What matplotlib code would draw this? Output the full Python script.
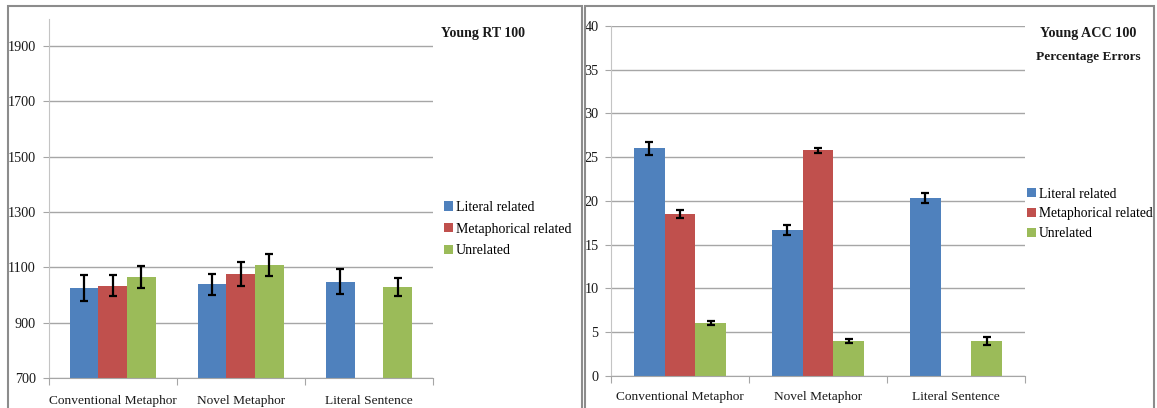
import numpy as np
import matplotlib
matplotlib.use('Agg')
import matplotlib.pyplot as plt
from matplotlib.patches import Rectangle

plt.rcParams['font.family'] = ['Liberation Serif', 'DejaVu Serif']

# 条件と系列
categories = ['Conventional Metaphor', 'Novel Metaphor', 'Literal Sentence']
series = ['Literal related', 'Metaphorical related', 'Unrelated']
colors = ['#4F81BD', '#C0504D', '#9BBB59']

# 反応時間 (ms) と誤差
rt_literal = [1025, 1039, 1047]
rt_metaphor = [1034, 1076, np.nan]
rt_unrelated = [1066, 1108, 1029]
rt_err_literal = [47, 38, 45]
rt_err_metaphor = [38, 42, np.nan]
rt_err_unrelated = [40, 40, 31]

# 誤答率 (%) と誤差
acc_literal = [26.0, 16.7, 20.3]
acc_metaphor = [18.5, 25.8, np.nan]
acc_unrelated = [6.0, 4.0, 4.0]
acc_err_literal = [0.7, 0.55, 0.6]
acc_err_metaphor = [0.45, 0.3, np.nan]
acc_err_unrelated = [0.25, 0.25, 0.45]

rt_ticks = [700, 900, 1100, 1300, 1500, 1700, 1900]
acc_ticks = [0, 5, 10, 15, 20, 25, 30, 35, 40]

W, H = 1157, 408
fig = plt.figure(figsize=(W / 100, H / 100), dpi=100)

def fx(px):
    return px / W

def fy(py):
    return (H - py) / H

# パネルの枠
for x0, x1 in [(8, 582), (585, 1154)]:
    fig.patches.append(Rectangle((fx(x0), fy(420)), fx(x1 - x0), (420 - 6) / H,
                                 transform=fig.transFigure, fill=False,
                                 edgecolor='#8C8C8C', linewidth=1.5))

def draw_panel(ax, values, errors, ylim, ticks, xpad):
    width = 0.2233
    x = np.arange(len(categories)) + 0.5
    for i, (vals, errs) in enumerate(zip(values, errors)):
        ax.bar(x + (i - 1) * width, vals, width, color=colors[i], label=series[i],
               zorder=2)
        ax.errorbar(x + (i - 1) * width, vals, yerr=errs, fmt='none', ecolor='black',
                    elinewidth=1.6, capsize=2.6, capthick=1.6, zorder=3)
    ax.set_xlim(0, 3)
    ax.set_ylim(*ylim)
    ax.set_yticks(ticks)
    ax.set_yticklabels([str(t) for t in ticks], fontsize=10.2, color='#1a1a1a')
    ax.yaxis.grid(True, color='#A6A6A6', linewidth=1.0, zorder=0)
    ax.set_axisbelow(True)
    ax.set_xticks([0, 1, 2, 3])
    ax.set_xticklabels([])
    ax.set_xticks(x, minor=True)
    ax.set_xticklabels(categories, minor=True, fontsize=9.6, color='#1a1a1a')
    ax.tick_params(axis='x', which='major', length=5, color='#A6A6A6', direction='out')
    ax.tick_params(axis='x', which='minor', length=0, pad=xpad)
    ax.tick_params(axis='y', length=4, color='#A6A6A6', pad=5)
    for s in ['top', 'right']:
        ax.spines[s].set_visible(False)
    ax.spines['left'].set_color('#C4C4C4')
    ax.spines['bottom'].set_color('#A6A6A6')

# 反応時間
ax1 = fig.add_axes([fx(48.5), fy(378), fx(433 - 48.5), (378 - 19) / H])
draw_panel(ax1,
           [rt_literal, rt_metaphor, rt_unrelated],
           [rt_err_literal, rt_err_metaphor, rt_err_unrelated],
           (700, 1997), rt_ticks, 12)
fig.text(fx(441), fy(34), 'Young RT 100', fontsize=10, fontweight='bold',
         ha='left', va='center', color='#1a1a1a')
fig.legend(*ax1.get_legend_handles_labels(), loc='center left',
           bbox_to_anchor=(fx(444), fy(229)), frameon=False, fontsize=10,
           handlelength=0.65, handleheight=0.65, handletextpad=0.2,
           labelspacing=0.62, borderpad=0, borderaxespad=0)

# 誤答率
ax2 = fig.add_axes([fx(611), fy(375.7), fx(1025 - 611), (375.7 - 26) / H])
draw_panel(ax2,
           [acc_literal, acc_metaphor, acc_unrelated],
           [acc_err_literal, acc_err_metaphor, acc_err_unrelated],
           (0, 40), acc_ticks, 11)
fig.text(fx(1088), fy(34), 'Young ACC 100', fontsize=10.2, fontweight='bold',
         ha='center', va='center', color='#1a1a1a')
fig.text(fx(1088), fy(57), 'Percentage Errors', fontsize=9.6, fontweight='bold',
         ha='center', va='center', color='#1a1a1a')
fig.legend(*ax2.get_legend_handles_labels(), loc='center left',
           bbox_to_anchor=(fx(1027), fy(214)), frameon=False, fontsize=9.8,
           handlelength=0.65, handleheight=0.65, handletextpad=0.2,
           labelspacing=0.5, borderpad=0, borderaxespad=0)

fig.savefig('out.png', dpi=100)
